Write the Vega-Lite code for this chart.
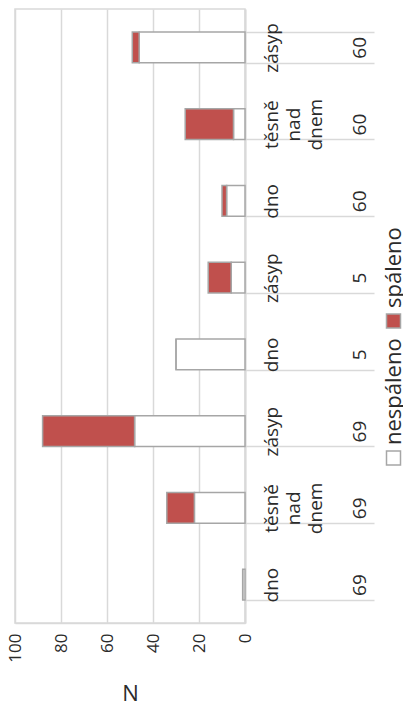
{
  "$schema": "https://vega.github.io/schema/vega-lite/v6.json",
  "padding": {"left": 5, "top": 8, "right": 0, "bottom": 0},
  "config": {
    "view": {"stroke": "#d9d9d9", "strokeWidth": 1.5},
    "font": "Open Sans",
    "concat": {"spacing": 6}
  },
  "datasets": {
    "bars": [
      {"kat": "dno|69", "stav": "nespáleno", "n": 1},
      {"kat": "dno|69", "stav": "spáleno", "n": 0},
      {"kat": "těsně nad dnem|69", "stav": "nespáleno", "n": 22},
      {"kat": "těsně nad dnem|69", "stav": "spáleno", "n": 12},
      {"kat": "zásyp|69", "stav": "nespáleno", "n": 48},
      {"kat": "zásyp|69", "stav": "spáleno", "n": 40},
      {"kat": "dno|5", "stav": "nespáleno", "n": 30},
      {"kat": "dno|5", "stav": "spáleno", "n": 0},
      {"kat": "zásyp|5", "stav": "nespáleno", "n": 6},
      {"kat": "zásyp|5", "stav": "spáleno", "n": 10},
      {"kat": "dno|60", "stav": "nespáleno", "n": 8},
      {"kat": "dno|60", "stav": "spáleno", "n": 2},
      {"kat": "těsně nad dnem|60", "stav": "nespáleno", "n": 5},
      {"kat": "těsně nad dnem|60", "stav": "spáleno", "n": 21},
      {"kat": "zásyp|60", "stav": "nespáleno", "n": 46},
      {"kat": "zásyp|60", "stav": "spáleno", "n": 3}
    ],
    "legend": [
      {"stav": "nespáleno"},
      {"stav": "spáleno"}
    ]
  },
  "hconcat": [
    {
      "width": 230,
      "height": 614,
      "data": {"name": "bars"},
      "mark": {"type": "bar", "stroke": "#a6a6a6", "strokeWidth": 1.5},
      "encoding": {
        "y": {
          "field": "kat",
          "type": "nominal",
          "sort": ["zásyp|60", "těsně nad dnem|60", "dno|60", "zásyp|5", "dno|5", "zásyp|69", "těsně nad dnem|69", "dno|69"],
          "scale": {"paddingInner": 0.6, "paddingOuter": 0.3},
          "axis": {
            "orient": "right",
            "title": null,
            "labelAngle": 270,
            "labelAlign": "center",
            "labelBaseline": "top",
            "labelFontSize": 19,
            "labelLineHeight": 22,
            "labelPadding": -112,
            "labelColor": "#2b2b2b",
            "labelLimit": 0,
            "labelOverlap": false,
            "labelExpr": "!isValid(datum.value) ? '' : split(datum.value,'|')[0] == 'těsně nad dnem' ? ['těsně','nad','dnem','\u200b',split(datum.value,'|')[1]] : [split(datum.value,'|')[0],'\u200b','\u200b','\u200b',split(datum.value,'|')[1]]",
            "tickBand": "extent",
            "tickSize": 129,
            "tickColor": "#d9d9d9",
            "tickWidth": 1.5,
            "domainColor": "#d9d9d9",
            "domainWidth": 2
          }
        },
        "x": {
          "field": "n",
          "type": "quantitative",
          "stack": "zero",
          "scale": {"domain": [0, 100], "reverse": true, "nice": false},
          "axis": {
            "values": [0, 20, 40, 60, 80, 100],
            "title": "N",
            "labelAngle": 270,
            "labelFontSize": 17,
            "labelPadding": 10,
            "labelColor": "#2b2b2b",
            "ticks": false,
            "gridColor": "#d9d9d9",
            "gridWidth": 1.5,
            "domainColor": "#d9d9d9",
            "domainWidth": 1.5,
            "titleFontSize": 22,
            "titleFontWeight": "normal",
            "titleColor": "#2b2b2b",
            "titlePadding": 21
          }
        },
        "color": {
          "field": "stav",
          "type": "nominal",
          "scale": {"domain": ["nespáleno", "spáleno"], "range": ["#ffffff", "#c0504d"]},
          "legend": null
        }
      }
    },
    {
      "width": 15,
      "height": 614,
      "view": {"stroke": null},
      "data": {"name": "legend"},
      "encoding": {
        "y": {
          "field": "stav",
          "type": "nominal",
          "scale": {"type": "point", "domain": ["spáleno", "nespáleno"], "range": [312, 449], "padding": 0},
          "axis": null
        }
      },
      "layer": [
        {
          "mark": {"type": "square", "size": 196, "filled": true, "stroke": "#a6a6a6", "strokeWidth": 1.5, "opacity": 1},
          "encoding": {
            "color": {
              "field": "stav",
              "type": "nominal",
              "scale": {"domain": ["nespáleno", "spáleno"], "range": ["#ffffff", "#c0504d"]},
              "legend": null
            }
          }
        },
        {
          "mark": {"type": "text", "angle": 270, "align": "left", "baseline": "middle", "dx": 13, "fontSize": 22, "color": "#2b2b2b"},
          "encoding": {"text": {"field": "stav"}}
        }
      ]
    }
  ]
}
